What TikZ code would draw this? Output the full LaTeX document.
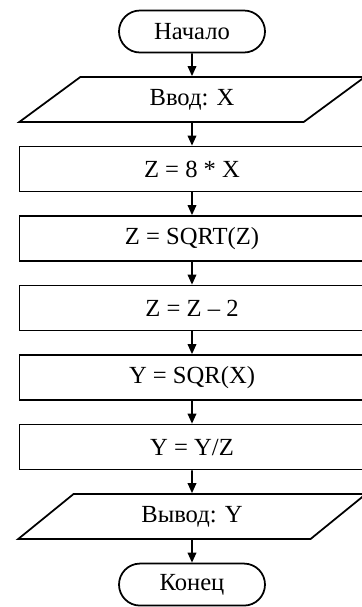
\documentclass[tikz,border=0pt]{standalone}
\usepackage{fontspec}
\setmainfont{Liberation Serif}
\usetikzlibrary{positioning, arrows.meta, shapes.geometric}

\tikzset{
    terminal/.style={draw, line width=1pt, rounded corners=0.42cm, minimum width=2.92cm, minimum height=0.84cm},
    inout/.style={draw, line width=1pt, trapezium, trapezium left angle=51, trapezium right angle=129,
        trapezium stretches=true, minimum width=6.96cm, minimum height=0.9cm},
    process/.style={draw, line width=1pt, minimum width=6.9cm, minimum height=0.9cm},
    flow/.style={line width=1pt, -{Triangle[length=0.2cm, width=0.17cm]}}
}

\begin{document}
\begin{tikzpicture}[node distance=0.455cm, font=\fontsize{14}{16}\selectfont]
        \useasboundingbox (0,0) rectangle (7.24,-12.14);
        \node[terminal] (start) at (3.84,-0.63) {Начало};
        \node[inout, below=of start] (in) {Ввод: X};
        \node[process, below=of in] (p1) {Z = 8 * X};
        \node[process, below=of p1] (p2) {Z = SQRT(Z)};
        \node[process, below=of p2] (p3) {Z = Z – 2};
        \node[process, below=of p3] (p4) {Y = SQR(X)};
        \node[process, below=of p4] (p5) {Y = Y/Z};
        \node[inout, below=of p5] (out) {Вывод: Y};
        \node[terminal, below=of out] (end) {Конец};
        \foreach \a/\b in {start/in, in/p1, p1/p2, p2/p3, p3/p4, p4/p5, p5/out, out/end}
            \draw[flow] (\a) -- (\b);
    \end{tikzpicture}
\end{document}
